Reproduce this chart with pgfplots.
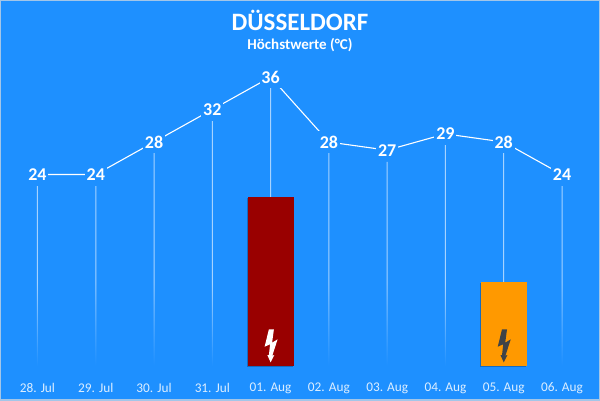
\documentclass[border=0pt]{standalone}
\usepackage{fontspec}
\setmainfont{Carlito}
\usepackage{pgfplots}
\pgfplotsset{compat=1.18}

\definecolor{skyback}{HTML}{1E90FF}
\definecolor{stemcol}{HTML}{A6D3FF}
\definecolor{edgecol}{HTML}{A3C6E8}
\definecolor{ticktext}{HTML}{DCEEFF}
\definecolor{warnred}{HTML}{990000}
\definecolor{warnorange}{HTML}{FF9900}
\definecolor{boltdark}{HTML}{3F4347}

\pgfdeclareverticalshading{stemfade}{100bp}{color(0bp)=(skyback); color(25bp)=(skyback); color(40bp)=(stemcol); color(100bp)=(stemcol)}

\pgfdeclareplotmark{bolt}{%
  \pgfpathmoveto{\pgfpoint{-1.7pt}{15.7pt}}
  \pgfpathlineto{\pgfpoint{3.3pt}{15.7pt}}
  \pgfpathlineto{\pgfpoint{1.5pt}{2.3pt}}
  \pgfpathlineto{\pgfpoint{7pt}{5.7pt}}
  \pgfpathlineto{\pgfpoint{1.7pt}{-10.7pt}}
  \pgfpathlineto{\pgfpoint{3.7pt}{-10pt}}
  \pgfpathlineto{\pgfpoint{0pt}{-17.3pt}}
  \pgfpathlineto{\pgfpoint{-3.3pt}{-10pt}}
  \pgfpathlineto{\pgfpoint{-1.7pt}{-10pt}}
  \pgfpathlineto{\pgfpoint{-0.5pt}{0.7pt}}
  \pgfpathlineto{\pgfpoint{-6pt}{-1.7pt}}
  \pgfpathclose
  \pgfusepathqfill
}

\pgfplotsset{
  fullpage/.style={
    at={(0pt,0pt)}, anchor=south west,
    scale only axis, width=600pt, height=400pt,
    xmin=-0.643, xmax=9.652,
    ymajorticks=false,
  },
  barshadow/.style={
    preaction={draw=none, fill=black, opacity=0.25,
      transform canvas={xshift=-0.5pt, yshift=-1pt}},
  },
}

\begin{document}
\begin{tikzpicture}
\useasboundingbox (0pt,0pt) rectangle (600pt,400pt);

% bars and stems, y in pixels above the base line
\begin{axis}[
  fullpage,
  ymin=-34, ymax=366,
  axis background/.style={fill=skyback},
  axis line style={draw=edgecol, line width=2pt},
  xtick={0,...,9},
  xticklabels={28. Jul,29. Jul,30. Jul,31. Jul,01. Aug,02. Aug,03. Aug,04. Aug,05. Aug,06. Aug},
  major tick length=0pt,
  xticklabel style={font=\fontsize{13.3}{15}\selectfont, text=ticktext, anchor=center, yshift=12pt},
]
\addplot[ybar, bar width=1pt, bar shift=0pt, draw=none, shading=stemfade] coordinates {
  (0,180) (1,180) (2,213) (3,245) (4,278) (5,213) (6,204) (7,221) (8,213) (9,180)
};
\addplot[ybar, bar width=46pt, bar shift=0pt, draw=none, fill=warnred, barshadow] coordinates {(4,169)};
\addplot[ybar, bar width=46pt, bar shift=0pt, draw=none, fill=warnorange, barshadow] coordinates {(8,84)};
\addplot[only marks, mark=bolt, white] coordinates {(4,21)};
\addplot[only marks, mark=bolt, boltdark] coordinates {(8,21)};
\end{axis}

% temperatures
\begin{axis}[
  fullpage,
  ymin=-3.75, ymax=45.48,
  axis lines=none,
  xtick=\empty,
  /pgf/number format/assume math mode=true,
]
\addplot[white, line width=1.1pt,
  nodes near coords,
  nodes near coords align={center},
  every node near coord/.append style={
    font=\fontsize{18}{20}\selectfont\bfseries, text=white, fill=skyback,
    inner sep=0pt, minimum width=22pt, minimum height=22pt},
] coordinates {
  (0,24) (1,24) (2,28) (3,32) (4,36) (5,28) (6,27) (7,29) (8,28) (9,24)
};
\node[font=\fontsize{25}{27}\selectfont\bfseries, text=white] at (rel axis cs:0.5,0.95) {DÜSSELDORF};
\node[font=\fontsize{15}{17}\selectfont\bfseries, text=white] at (rel axis cs:0.5,0.8865) {Höchstwerte (°C)};
\end{axis}
\end{tikzpicture}
\end{document}
